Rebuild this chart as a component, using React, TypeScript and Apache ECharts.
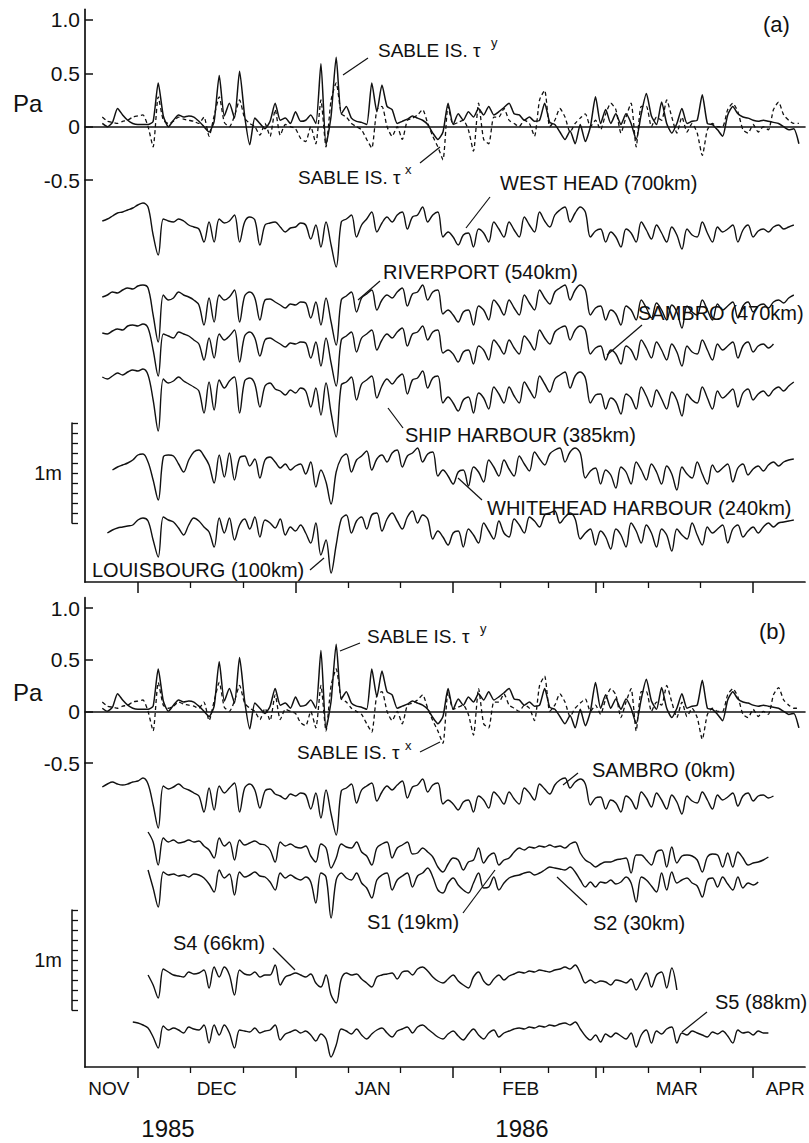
import React, { useEffect, useRef } from "react";
import * as echarts from "echarts";

// ---------- axis / tick definitions (days since 1 Dec 1985) ----------
const DAY_MIN = -10.4;
const DAY_MAX = 131.2;
const MONTH_STARTS = [0, 31, 62, 90, 121];
const THIRD_TICKS = [10.33, 20.67, 41.33, 51.67, 71.33, 80.67, 91.6, 100.33, 110.67];
const MONTH_LABEL_DAYS = [-5.7, 15.5, 46.2, 75.3, 106, 127.3];
const MONTH_NAMES = ["NOV", "DEC", "JAN", "FEB", "MAR", "APR"];
const PA_TICKS = [-0.5, 0, 0.5, 1];
const PA_LABELS = ["-0.5", "0", "0.5", "1.0"];

// ---------- Sable Island wind stress (units of 0.01 Pa), daily from day -7 ----------
const WIND_START = -7;
const tauY = [
  3, 0, 4, 17, 11, 6, 3,
  2, 2, 2, 5, 41, 10, 0, 6, 11, 9,
  10, 9, 5, 0, -5, 5, 48, 10, 22, 8,
  52, 10, -17, 8, 3, -2, 5, 22, 6, 8,
  3, 14, 5, 6, 11, 3, 59, -17, 10, 65,
  12, 19, 8, 5, 4, 2, 41, 14, 39, 19,
  16, 3, 5, 7, 10, 8, 6, 2, -6, -12,
  -5, 22, 2, 12, 6, 14, 9, 17, 11, 19,
  11, 14, 18, 22, 12, 11, 6, 9, 5, 6,
  22, 4, 2, -5, -12, -4, -16, 2, -14, 0,
  28, 3, 16, 3, 12, 2, 12, 3, -12, 12,
  31, 10, 2, 23, 3, -6, 3, 17, 3, 5,
  6, 30, 3, 2, -3, -9, 11, 19, 12, 9,
  8, 6, 5, 6, 5, 4, 3, 0, -3, -2,
  -16,
];
const tauX = [
  9, 5, 4, 3, 5, 6, 9,
  10, 11, 0, -19, 28, 6, 3, 5, 9, 7,
  6, 5, 3, 9, -9, 10, 28, 4, 0, 10,
  25, 8, 3, 0, -8, 3, -9, 16, -8, 2,
  0, -2, -11, -14, 0, -16, 25, -19, 25, 41,
  12, 9, 3, 0, -3, -12, -20, 16, 19, 0,
  -9, 0, -12, 6, 8, 11, 16, 3, -9, -19,
  -31, 19, 2, 4, 6, -3, -23, 22, -12, -16,
  9, 9, 17, 6, 3, 0, 6, 3, -9, 25,
  34, 0, 6, 17, 9, -5, 3, 8, 12, 0,
  6, -3, 12, 22, 16, -6, 9, 22, -19, 19,
  19, 0, 9, 6, 25, 9, -6, 9, -5, 3,
  -6, -27, -3, 3, 0, 0, 16, 22, 14, -3,
  -6, 2, -5, 0, -3, 16, 23, 11, 6, 3,
  3,
];

// ---------- adjusted sea level (cm), daily ----------
const westHeadStart = -7;
const westHead = [
  4, 6, 9, 12, 13, 15, 17,
  20, 22, 18, -10, -30, 6, 4, 3, 6, 4,
  0, -2, -4, -17, 3, -17, 6, 2, 4, 10,
  -17, 3, 8, 5, -20, 0, 2, 3, -2, -7,
  -3, -2, 2, 0, -14, 0, -22, 3, -20, -42,
  3, 6, 10, -12, 0, 6, 13, -7, 2, 8,
  3, 10, 13, -4, 8, 10, 18, 3, 10, 13,
  -12, -7, -12, -20, -10, -8, -22, -4, -8, -17,
  3, -4, -12, 3, -5, -12, 8, 0, -7, 13,
  4, -2, 10, 15, 18, 3, 12, 18, 13, -12,
  -6, -4, -17, -7, -12, -22, -4, -8, -17, 3,
  -5, -14, 0, -8, -17, -2, -10, -24, -4, -10,
  -12, 3, -8, -17, -2, -7, -4, 0, -17, -5,
  0, -12, -6, -4, -7, -2, 0, -4, -2, 0,
];
const riverportStart = -7;
const riverport = [
  3, 5, 8, 7, 10, 12, 11,
  14, 15, 12, -15, -42, 5, 0, 2, 8, 5,
  3, 0, -5, -25, 2, -22, 5, 0, 3, 10,
  -22, 4, 8, 2, -20, 0, 1, -2, -5, -8,
  -4, -5, -2, -3, -18, -2, -25, 2, -22, -45,
  0, 4, 8, -12, 2, 6, 10, -10, 0, 5,
  2, 8, 12, -6, 6, 8, 15, 0, 8, 10,
  -14, -10, -15, -22, -12, -10, -25, -6, -10, -20,
  0, -6, -15, 0, -8, -15, 5, -3, -10, 10,
  2, -4, 8, 12, 15, 0, 10, 15, 10, -15,
  -8, -6, -20, -10, -14, -25, -6, -10, -20, 0,
  -8, -18, -3, -10, -20, -5, -12, -28, -6, -12,
  -15, 0, -10, -20, -4, -10, -6, -2, -18, -6,
  -2, -12, -6, -4, -8, -2, 0, -3, 2, 5,
];
const sambroAStart = -7;
const sambroA = [
  5, 4, 7, 9, 8, 12, 13,
  12, 14, 10, -12, -38, 4, 2, 0, 6, 4,
  2, -2, -6, -22, 0, -20, 4, -2, 2, 8,
  -24, 2, 6, 0, -18, -2, 0, -3, -6, -9,
  -5, -6, -4, -5, -20, -4, -28, 0, -25, -48,
  -2, 2, 6, -14, 0, 4, 8, -12, -2, 4,
  0, 6, 10, -8, 4, 6, 12, -2, 6, 8,
  -15, -12, -16, -24, -14, -12, -26, -8, -12, -22,
  -2, -8, -16, -2, -10, -16, 2, -4, -12, 8,
  0, -6, 6, 10, 12, -2, 8, 12, 8, -16,
  -10, -8, -22, -12, -16, -26, -8, -12, -22, -2,
  -10, -20, -4, -12, -22, -6, -14, -28, -8, -14,
  -16, -2, -12, -22, -6, -12, -8, -4, -20, -8,
  -4, -14, -8, -6, -10, -6,
];
const shipHarbourStart = -7;
const shipHarbour = [
  8, 6, 9, 12, 10, 13, 15,
  14, 16, 10, -15, -46, 6, 2, 4, 8, 4,
  1, -2, -6, -28, 3, -25, 5, -3, 4, 8,
  -28, 4, 7, 1, -22, -1, 2, -4, -6, -10,
  -5, -8, -3, -6, -22, -3, -30, 2, -28, -52,
  0, 3, 8, -15, 1, 5, 9, -13, -1, 6,
  1, 7, 11, -9, 5, 7, 14, -3, 7, 9,
  -18, -12, -18, -26, -15, -12, -28, -8, -13, -24,
  -2, -9, -18, -2, -11, -18, 3, -5, -13, 9,
  1, -7, 6, 10, 13, -3, 9, 13, 7, -18,
  -10, -9, -24, -13, -17, -29, -9, -13, -24, -2,
  -11, -22, -5, -14, -24, -7, -15, -31, -9, -15,
  -18, -2, -13, -24, -6, -13, -9, -4, -22, -8,
  -4, -15, -9, -6, -11, -5, -2, -6, -1, 3,
];
const whiteheadStart = -5;
const whitehead = [
  -8, -5, -3, -1, 2,
  7, 8, 0, -18, -38, 5, 7, 6, -2, -10,
  2, 10, 12, 6, -3, -21, 7, -15, 9, -18,
  4, 6, -4, 3, -16, 2, 5, 0, -6, -2,
  -8, -4, -2, -12, 0, -25, -8, -20, -42, -10,
  4, 8, -10, 2, 6, 11, -8, 3, 7, 0,
  9, 12, -5, 6, 9, 14, 0, 8, 10, -14,
  -8, -14, -22, -10, -8, -24, -5, -10, -20, 2,
  -5, -14, 2, -7, -14, 6, -2, -9, 10, 3,
  -3, 8, 12, 14, 0, 10, 14, 9, -16, -9,
  -6, -22, -8, -13, -26, -5, -10, -22, 0, -8,
  -18, -2, -10, -22, -4, -12, -28, -5, -12, -16,
  0, -12, -22, -3, -10, -6, -2, -20, -6, -2,
  -13, -7, -4, -9, -3, 0, -4, 0, 2, 3,
];
const louisbourgStart = -6;
const louisbourg = [
  -8, -5, -3, -2, -1, 0,
  5, 7, 4, -15, -32, 8, 5, 3, -3, -10,
  0, 7, 4, -2, -7, -22, 7, -8, 7, -15,
  0, 6, -4, 8, -12, 5, 2, -3, 6, -10,
  -2, -6, 0, -8, -18, 2, -30, -15, -48, -20,
  6, 10, -8, 4, 8, -4, 10, 12, -6, 6,
  12, 4, -4, 8, 14, 2, 10, 6, -14, -6,
  -12, -20, -8, -6, -22, -4, -10, -18, 2, -6,
  -14, 4, -8, -12, 6, 0, -8, 8, 4, -2,
  10, 12, 14, 2, 8, 12, 6, -14, -8, -4,
  -20, -6, -12, -24, -4, -10, -22, 2, -6, -18,
  0, -8, -22, -4, -10, -26, -4, -10, -14, 2,
  -10, -20, -2, -8, -4, 0, -18, -4, 0, -12,
  -6, -2, -8, -2, 2, -2, 2, 3, 4, 5,
];
const sambroBStart = -7;
const sambroB = [
  3, 6, 8, 6, 5, 6, 8,
  9, 12, 6, -15, -38, 4, 1, 3, 6, 2,
  0, -3, -6, -22, 2, -20, 4, -3, 2, 7,
  -22, 2, 6, 0, -18, -1, 1, -4, -6, -9,
  -4, -6, -3, -5, -19, -3, -28, 0, -24, -45,
  -1, 2, 6, -13, 0, 4, 7, -11, -2, 4,
  0, 5, 9, -8, 3, 5, 11, -2, 5, 7,
  -14, -10, -14, -20, -12, -10, -22, -6, -10, -18,
  -2, -7, -14, -2, -9, -14, 2, -3, -10, 6,
  1, -4, 5, 10, 12, 2, 8, 11, 6, -15,
  -8, -7, -19, -10, -13, -22, -6, -10, -19, -2,
  -8, -17, -3, -10, -19, -5, -12, -24, -6, -11,
  -13, -2, -10, -19, -5, -10, -7, -3, -16, -6,
  -3, -11, -6, -5, -8, -6,
];
const s1Start = 2;
const s1 = [
  18, 8, -15, 12, 8, 10, 7, 8,
  10, 8, 9, 4, 0, -8, 12, 4, 8, -10,
  10, 5, 7, 9, 6, 5, 0, -12, 8, 4,
  6, 3, 2, 4, -6, -12, 6, 2, -18, -8,
  6, 3, 2, 8, -2, -6, -15, 2, 6, 8,
  -8, 2, 5, 8, -4, -3, 2, -2, -7, -17,
  -22, -14, -8, -10, -20, -12, -10, 2, -13, -6,
  -3, -15, -10, -8, -2, 2, 0, 3, 2, 4,
  3, 5, 3, 4, 2, 6, 8, -3, -10, -13,
  -17, -14, -12, -12, -10, -9, -8, -23, -5, -5,
  -10, -15, -2, 0, -17, 3, -13, -6, -5, -6,
  -10, -22, -7, -4, -5, -17, -3, -17, -2, -8,
  -15, -13, -12, -10, -7,
];
const s2Start = 2;
const s2 = [
  10, -8, -27, 8, 5, 6, 4, 5,
  3, 6, 5, 2, -4, -12, 10, 2, 6, -15,
  8, 3, 5, 8, 4, 3, -2, -10, 7, 2,
  5, 2, 0, 3, -2, -23, 7, 3, -38, 0,
  7, 2, 0, 7, -3, -8, -18, 0, 5, 7,
  -10, 0, 4, 7, -7, 4, 7, 12, 3, -10,
  -13, -3, 2, -5, -10, -13, -3, 7, -8, -7,
  3, -10, -3, 2, 4, 5, 7, 8, 5, 7,
  10, 13, 12, 11, 10, 13, 8, 0, -7, -2,
  -7, -2, -3, 0, -4, -2, 3, -3, -22, 3,
  0, -6, -12, 7, -10, 8, -3, 0, 2, -3,
  -6, -17, 0, 2, -7, 3, -4, -10, 3, -8,
  -3, -5, -2,
];
const s4Start = 2;
const s4 = [
  2, -8, -21, 8, 5, 2, 1, 0,
  5, 3, 4, 7, -11, 10, 0, 10, 2, -18,
  7, 3, 2, 5, 0, 2, 2, 12, -8, 0,
  2, 4, 2, 0, 3, -6, -10, 2, -18, -26,
  -2, 4, 2, 3, -2, -6, -10, 0, 2, 3,
  4, -2, 5, 6, 2, 8, 10, 6, 0, -4,
  -6, -2, 2, -4, -8, -11, 0, 5, -4, -8,
  -2, 2, -3, 1, 3, 5, 4, 6, 5, 7,
  6, 5, 7, 8, 10, 8, 12, 4, -6, -3,
  -6, -4, -5, -8, -3, -4, -6, -2, -13, -4,
  4, -10, 2, 5, -11, 9, -13,
];
const s5Start = -1;
const s5 = [
  9, 8, 6, 3, -6, -17, 5, 1, 3, 1, -2,
  4, 2, 1, 6, -12, 6, -4, 6, -2, -17,
  1, 0, -1, 3, -2, 0, 1, 6, -9, -3,
  -1, 1, -2, 0, -4, -10, -3, -8, -26, -14,
  2, 0, -3, 2, -4, -8, -3, 1, 3, -2,
  -6, 0, 2, 4, -2, 4, 6, 2, -2, -6,
  -8, -3, 0, -5, -9, -3, 2, -4, -8, -2,
  1, -6, -2, 0, 2, 3, 2, 4, 3, 5,
  4, 6, 5, 7, 8, 6, 9, 2, -5, -9,
  -4, -11, -3, -6, -2, -5, -8, -2, -16, -4,
  1, -12, 0, -3, 2, 4, -12, -2, -4, 0,
  -2, -4, -6, -1, -3, 0, -5, -12, 1, -2,
  -1, -4, 0, -2, -2,
];

// vertical placement of each record inside its panel (cm above the panel's x axis)
const OFFSET_A = { westHead: 357, riverport: 282, sambro: 244, ship: 197, whitehead: 120, louisbourg: 57 };
const OFFSET_B = { sambro: 277, s1: 217, s2: 187, s4: 90, s5: 36 };

const INK = "#111";
const FONT = "'Liberation Sans', Arial, Helvetica, sans-serif";

function toSeries(vals: number[], start: number, offset: number, scale = 1) {
  return vals.map((v, i) => [start + i, v * scale + offset]);
}

function lineSeries(data: number[][], xi: number, yi: number, dashed = false, width = 1.4, smooth = 0.35) {
  return {
    type: "line",
    data,
    xAxisIndex: xi,
    yAxisIndex: yi,
    showSymbol: false,
    symbol: "none",
    silent: true,
    animation: false,
    smooth,
    z: dashed ? 2 : 3,
    lineStyle: { color: INK, width, type: dashed ? [4, 3] : "solid" },
  };
}

function buildOption() {
  const gridBase = { containLabel: false, outerBoundsMode: "none" };
  const grid = [
    { ...gridBase, left: 85, right: 4, top: 9.3, height: 170.7 },
    { ...gridBase, left: 85, right: 4, top: 180, height: 402 },
    { ...gridBase, left: 72, width: 1, top: 423, height: 100 },
    { ...gridBase, left: 85, right: 4, top: 597.7, height: 165.3 },
    { ...gridBase, left: 85, right: 4, top: 763, height: 304 },
    { ...gridBase, left: 72, width: 1, top: 910, height: 100 },
    { ...gridBase, left: 85, right: 4, top: 180, height: 402 },
    { ...gridBase, left: 85, right: 4, top: 763, height: 304 },
  ];

  const hiddenX = (gi: number) => ({
    type: "value", gridIndex: gi, min: 0, max: 1, show: false,
  });
  const zeroLineX = (gi: number) => ({
    type: "value", gridIndex: gi, min: DAY_MIN, max: DAY_MAX,
    splitLine: { show: false },
    axisLabel: { show: false },
    axisTick: { show: false },
    axisLine: { show: true, onZero: true, lineStyle: { color: INK, width: 1.6 } },
  });
  const monthX = (gi: number, labels: boolean) => ({
    type: "value", gridIndex: gi, min: DAY_MIN, max: DAY_MAX, position: "bottom",
    splitLine: { show: false },
    axisLine: { show: true, onZero: false, lineStyle: { color: INK, width: 1.7 } },
    axisTick: { show: true, customValues: MONTH_STARTS, length: 11, lineStyle: { color: INK, width: 1.5 } },
    axisLabel: labels
      ? {
          show: true,
          customValues: MONTH_LABEL_DAYS,
          formatter: (v: number) => {
            let best = 0;
            MONTH_LABEL_DAYS.forEach((d, i) => {
              if (Math.abs(d - v) < Math.abs(MONTH_LABEL_DAYS[best] - v)) best = i;
            });
            return MONTH_NAMES[best];
          },
          color: INK, fontSize: 19, fontFamily: FONT, margin: 12,
        }
      : { show: false },
  });
  const thirdX = (gi: number) => ({
    type: "value", gridIndex: gi, min: DAY_MIN, max: DAY_MAX, position: "bottom",
    splitLine: { show: false },
    axisLine: { show: false, onZero: false },
    axisTick: { show: true, customValues: THIRD_TICKS, length: 6, lineStyle: { color: INK, width: 1.3 } },
    axisLabel: { show: false },
  });

  const paY = (gi: number) => ({
    type: "value", gridIndex: gi, min: -0.5, max: 1.1, position: "left",
    splitLine: { show: false },
    axisLine: { show: true, onZero: false, lineStyle: { color: INK, width: 1.7 } },
    axisTick: { show: true, inside: true, length: 8, customValues: PA_TICKS, lineStyle: { color: INK, width: 1.5 } },
    axisLabel: {
      show: true, customValues: PA_TICKS,
      formatter: (v: number) => PA_LABELS[PA_TICKS.findIndex((t) => Math.abs(t - v) < 1e-6)] ?? "",
      color: INK, fontSize: 21, fontFamily: FONT, margin: 5,
    },
  });
  const seaY = (gi: number, max: number) => ({
    type: "value", gridIndex: gi, min: 0, max, position: "left",
    splitLine: { show: false },
    axisLine: { show: true, onZero: false, lineStyle: { color: INK, width: 1.7 } },
    axisTick: { show: false },
    axisLabel: { show: false },
  });
  const scaleY = (gi: number) => ({
    type: "value", gridIndex: gi, min: 0, max: 1, interval: 0.1, position: "left",
    splitLine: { show: false },
    axisLine: { show: true, onZero: false, lineStyle: { color: INK, width: 1.5 } },
    axisTick: { show: true, inside: true, length: 6, lineStyle: { color: INK, width: 1.3 } },
    axisLabel: {
      show: true, customValues: [0.5], formatter: () => "1m",
      color: INK, fontSize: 20, fontFamily: FONT, margin: 10,
    },
  });
  const hiddenY = (gi: number) => ({ type: "value", gridIndex: gi, min: 0, max: 1, show: false });

  const xAxis = [
    zeroLineX(0), monthX(1, false), hiddenX(2),
    zeroLineX(3), monthX(4, true), hiddenX(5),
    thirdX(6), thirdX(7),
  ];
  const yAxis = [
    paY(0), seaY(1, 402), scaleY(2),
    paY(3), seaY(4, 304), scaleY(5),
    hiddenY(6), hiddenY(7),
  ];

  const series = [
    lineSeries(toSeries(tauX, WIND_START, 0, 0.01), 0, 0, true, 1.3, 0.2),
    lineSeries(toSeries(tauY, WIND_START, 0, 0.01), 0, 0, false, 1.5, 0.2),
    lineSeries(toSeries(westHead, westHeadStart, OFFSET_A.westHead), 1, 1),
    lineSeries(toSeries(riverport, riverportStart, OFFSET_A.riverport), 1, 1),
    lineSeries(toSeries(sambroA, sambroAStart, OFFSET_A.sambro), 1, 1),
    lineSeries(toSeries(shipHarbour, shipHarbourStart, OFFSET_A.ship), 1, 1),
    lineSeries(toSeries(whitehead, whiteheadStart, OFFSET_A.whitehead), 1, 1),
    lineSeries(toSeries(louisbourg, louisbourgStart, OFFSET_A.louisbourg), 1, 1),
    lineSeries(toSeries(tauX, WIND_START, 0, 0.01), 3, 3, true, 1.3, 0.2),
    lineSeries(toSeries(tauY, WIND_START, 0, 0.01), 3, 3, false, 1.5, 0.2),
    lineSeries(toSeries(sambroB, sambroBStart, OFFSET_B.sambro), 4, 4),
    lineSeries(toSeries(s1, s1Start, OFFSET_B.s1), 4, 4),
    lineSeries(toSeries(s2, s2Start, OFFSET_B.s2), 4, 4),
    lineSeries(toSeries(s4, s4Start, OFFSET_B.s4), 4, 4),
    lineSeries(toSeries(s5, s5Start, OFFSET_B.s5), 4, 4),
  ];

  const txt = (text: string, x: number, y: number, size = 20, align = "left") => ({
    type: "text", x, y, silent: true,
    style: {
      text, fill: INK, fontSize: size, fontFamily: FONT,
      textAlign: align, textVerticalAlign: "middle",
    },
  });
  const ln = (x1: number, y1: number, x2: number, y2: number) => ({
    type: "line", silent: true,
    shape: { x1, y1, x2, y2 },
    style: { stroke: INK, lineWidth: 1.2 },
  });

  const graphic = [
    // panel (a)
    txt("Pa", 13, 103, 24),
    txt("(a)", 763, 24, 22),
    txt("SABLE IS. τ", 378, 50, 19),
    txt("y", 491, 42, 13),
    ln(368, 58, 343, 75),
    txt("SABLE IS. τ", 298, 177, 19),
    txt("x", 405, 169, 13),
    ln(420, 163, 440, 147),
    txt("WEST HEAD (700km)", 500, 183),
    ln(490, 197, 466, 228),
    txt("RIVERPORT (540km)", 383, 272),
    ln(380, 281, 358, 300),
    txt("SAMBRO (470km)", 638, 313),
    ln(642, 325, 607, 355),
    txt("SHIP HARBOUR (385km)", 405, 435),
    ln(403, 428, 388, 408),
    txt("WHITEHEAD HARBOUR (240km)", 487, 508),
    ln(482, 500, 458, 478),
    txt("LOUISBOURG (100km)", 92, 570),
    ln(310, 570, 324, 558),
    // panel (b)
    txt("Pa", 13, 692, 24),
    txt("(b)", 759, 631, 22),
    txt("SABLE IS. τ", 367, 636, 19),
    txt("y", 480, 628, 13),
    ln(360, 643, 340, 651),
    txt("SABLE IS. τ", 297, 752, 19),
    txt("x", 405, 745, 13),
    ln(420, 752, 440, 742),
    txt("SAMBRO (0km)", 592, 770),
    ln(578, 773, 563, 785),
    txt("S1 (19km)", 367, 922),
    ln(463, 913, 495, 870),
    txt("S2 (30km)", 593, 923),
    ln(587, 905, 557, 877),
    txt("S4 (66km)", 173, 943),
    ln(273, 948, 295, 970),
    txt("S5 (88km)", 715, 1002),
    ln(707, 1012, 682, 1032),
    txt("1985", 168, 1128, 24, "center"),
    txt("1986", 522, 1128, 24, "center"),
  ];

  return {
    animation: false,
    backgroundColor: "#fff",
    grid,
    xAxis,
    yAxis,
    series,
    graphic: { elements: graphic },
  };
}

export default function App() {
  const ref = useRef<HTMLDivElement>(null);
  useEffect(() => {
    document.body.style.margin = "0";
    const chart = echarts.init(ref.current!, undefined, { renderer: "svg" });
    chart.setOption(buildOption() as any);
    return () => chart.dispose();
  }, []);
  return (
    <div
      ref={ref}
      style={{ position: "absolute", left: 0, top: 0, width: 809, height: 1143, background: "#fff" }}
    />
  );
}
